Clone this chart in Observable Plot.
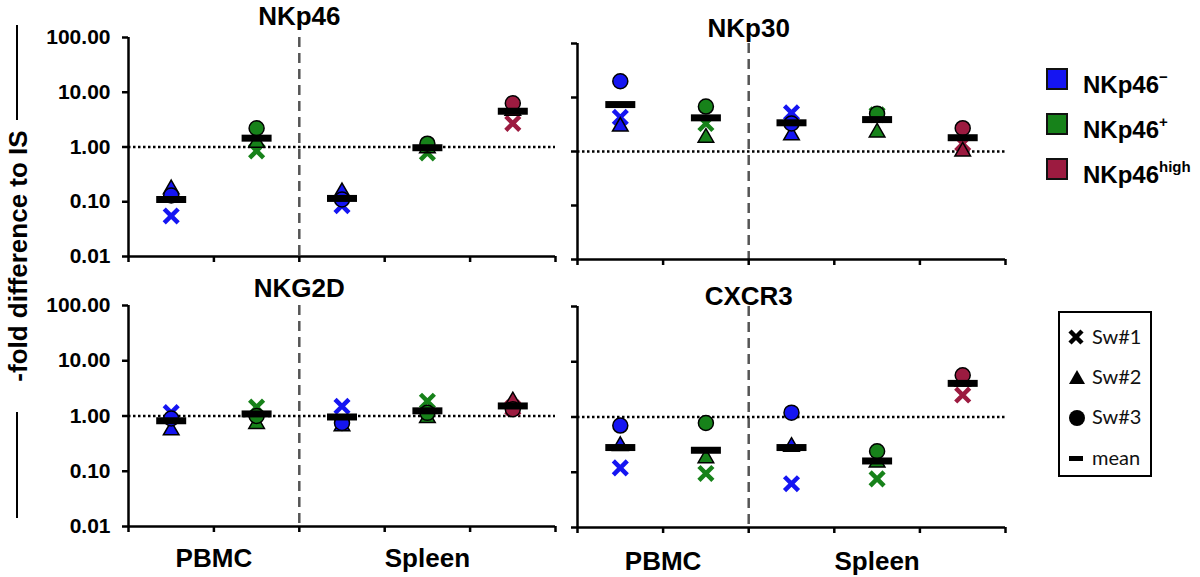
<!DOCTYPE html>
<html><head><meta charset="utf-8">
<script src="https://cdn.jsdelivr.net/npm/d3@7"></script>
<script src="https://cdn.jsdelivr.net/npm/@observablehq/plot@0.6"></script>
<style>
body{margin:0;background:#fff;}
#chart{position:relative;width:1200px;height:577px;font-family:"Liberation Sans",Arial,sans-serif;overflow:hidden;}
.panel{position:absolute;}
.panel svg{overflow:visible !important;background:transparent !important;max-width:none !important;}
.panel g[aria-label="y-axis tick"], .panel g[aria-label="x-axis tick"]{stroke-width:2.5px;}
.sq{position:absolute;width:22px;height:22px;border:2px solid #111;box-sizing:border-box;}
.lg1{position:absolute;font-weight:bold;font-size:24px;line-height:24px;color:#000;}
.lg1 sup{font-size:15px;position:relative;top:-2px;}
#box2{position:absolute;left:1058px;top:311px;width:94px;height:166px;border:2.5px solid #000;box-sizing:border-box;}
.lg2{position:absolute;left:32px;font-family:Lato,"Open Sans",sans-serif;font-size:20px;line-height:20px;color:#111;}
.ico{position:absolute;left:8px;}
#ylab{position:absolute;left:-132px;top:242px;width:300px;text-align:center;font-weight:bold;font-size:26px;line-height:28px;transform:rotate(-90deg);white-space:nowrap;}
.vline{position:absolute;left:16px;width:2px;background:#000;}
</style>
</head><body>
<div id="chart">
  <div class="vline" style="top:25px;height:95px"></div>
  <div id="ylab">-fold difference to IS</div>
  <div class="vline" style="top:412px;height:106px"></div>
</div>
<script>
// ---- data ----
const categories = ["PBMC NKp46−","PBMC NKp46+","Spleen NKp46−","Spleen NKp46+","Spleen NKp46high"];
const tissues = ["PBMC","PBMC","Spleen","Spleen","Spleen"];
const subsets = ["neg","pos","neg","pos","high"];
const tissueGroups = ["PBMC","Spleen"];
const subsetNames = ["neg","pos","high"];
const subsetLabels = ["−","+","high"];
const subsetColors = ["#1515f2","#17821a","#9c1b40"];
const yTicks = [0.01, 0.1, 1, 10, 100];
const refLine = [1];
const donorLabels = ["Sw#1","Sw#2","Sw#3","mean"];

const nkp46_sw1  = [0.055, 0.85, 0.085, 0.78, 2.7];
const nkp46_sw2  = [0.17, 1.2, 0.15, 0.95, 4.6];
const nkp46_sw3  = [0.13, 2.2, 0.11, 1.15, 6.3];
const nkp46_mean = [0.11, 1.45, 0.115, 0.97, 4.5];

const nkp30_sw1  = [4.3, 3.3, 5.2, 4.8, 1.4];
const nkp30_sw2  = [2.9, 1.8, 2.0, 2.25, 1.0];
const nkp30_sw3  = [20, 6.8, 3.3, 5.0, 2.7];
const nkp30_mean = [7.4, 4.2, 3.4, 3.9, 1.8];

const nkg2d_sw1  = [1.15, 1.45, 1.5, 1.85, 1.4];
const nkg2d_sw2  = [0.55, 0.72, 0.65, 0.92, 1.85];
const nkg2d_sw3  = [0.9, 1.0, 0.75, 1.14, 1.33];
const nkg2d_mean = [0.82, 1.09, 0.96, 1.24, 1.52];

const cxcr3_sw1  = [0.12, 0.095, 0.062, 0.076, 2.5];
const cxcr3_sw2  = [0.30, 0.18, 0.29, 0.15, 4.4];
const cxcr3_sw3  = [0.70, 0.78, 1.2, 0.24, 5.7];
const cxcr3_mean = [0.28, 0.25, 0.28, 0.16, 4.06];

// ---- drawing ----
const meanBar = {draw(ctx){ ctx.moveTo(-15,-3.5); ctx.lineTo(15,-3.5); ctx.lineTo(15,3.5); ctx.lineTo(-15,3.5); ctx.closePath(); }};
const boundary = tissues.indexOf("Spleen");
const groupCenters = tissueGroups.map(t => {
  const idx = tissues.map((v,i)=> v===t ? i : -1).filter(i=> i>=0);
  return (idx[0] + idx[idx.length-1] + 1) / 2;
});

function panel(name, sw1, sw2, sw3, mean, o) {
  const rows = categories.map((c,i)=>({category:c, idx:i, subset:subsets[i], sw1:sw1[i], sw2:sw2[i], sw3:sw3[i], mean:mean[i]}));
  const xpos = d => d.idx + 0.5;
  const marks = [
    Plot.ruleX([boundary], {stroke:"#555", strokeWidth:2.5, strokeDasharray:"10,6"}),
    Plot.ruleY(refLine, {stroke:"#000", strokeWidth:2.5, strokeDasharray:"2.5,2.5"}),
    Plot.ruleY([yTicks[0]], {stroke:"#000", strokeWidth:2.5}),
    Plot.ruleX([0], {stroke:"#000", strokeWidth:2.5}),
    Plot.dot(rows, {x:xpos, y:"sw1", symbol:"times", r:6.4, stroke:"subset", strokeWidth:4.5}),
    Plot.dot(rows, {x:xpos, y:"sw2", symbol:"triangle", r:5.8, fill:"subset", stroke:"#000", strokeWidth:1.5}),
    Plot.dot(rows, {x:xpos, y:"sw3", symbol:"circle", r:7.5, fill:"subset", stroke:"#000", strokeWidth:1.5}),
    Plot.dot(rows, {x:xpos, y:"mean", symbol:meanBar, fill:"#000", stroke:"none"}),
    Plot.text([name], {x:[boundary], frameAnchor:"top", lineAnchor:"bottom", dy:o.titleDy, fontSize:26, fontWeight:"bold"})
  ];
  if (o.xlabels) marks.push(Plot.text(tissueGroups, {x: groupCenters, frameAnchor:"bottom", lineAnchor:"top", dy:o.xlabDy, fontSize:26, fontWeight:"bold"}));
  const svg = Plot.plot({
    width:o.width, height:o.height,
    marginLeft:o.ml, marginRight:o.mr, marginTop:o.mt, marginBottom:o.mb,
    style:{fontFamily:"Liberation Sans, Arial, sans-serif", fontSize:"21px", fontWeight:"bold", background:"transparent", overflow:"visible", color:"#000"},
    x:{type:"linear", domain:[0, categories.length], ticks:d3.range(categories.length+1), tickFormat:()=>"", tickSize:6, label:null},
    y:{type:"log", domain:[yTicks[0], yTicks[yTicks.length-1]], ticks:yTicks, tickFormat: o.ylabels ? d3.format(".2f") : ()=>"", tickSize:6, tickPadding:12, label:null},
    color:{domain:subsetNames, range:subsetColors},
    marks
  });
  const div = document.createElement("div");
  div.className = "panel";
  div.style.left = o.left + "px";
  div.style.top = o.top + "px";
  div.appendChild(svg);
  document.getElementById("chart").appendChild(div);
}

panel("NKp46", nkp46_sw1, nkp46_sw2, nkp46_sw3, nkp46_mean, {left:0, top:0, width:560, height:280, ml:128, mr:5, mt:37, mb:24, ylabels:true, xlabels:false, titleDy:-13});
panel("NKp30", nkp30_sw1, nkp30_sw2, nkp30_sw3, nkp30_mean, {left:560, top:0, width:460, height:280, ml:17, mr:15, mt:43, mb:21, ylabels:false, xlabels:false, titleDy:-7});
panel("NKG2D", nkg2d_sw1, nkg2d_sw2, nkg2d_sw3, nkg2d_mean, {left:0, top:270, width:560, height:307, ml:128, mr:5, mt:35, mb:51, ylabels:true, xlabels:true, titleDy:-9, xlabDy:22});
panel("CXCR3", cxcr3_sw1, cxcr3_sw2, cxcr3_sw3, cxcr3_mean, {left:560, top:270, width:460, height:307, ml:17, mr:15, mt:36, mb:50, ylabels:false, xlabels:true, titleDy:-2, xlabDy:24});

// ---- legends ----
const chart = document.getElementById("chart");
const sqTops = [68, 113, 158];
subsetNames.forEach((s,i) => {
  const sq = document.createElement("div");
  sq.className = "sq";
  sq.style.left = "1046px"; sq.style.top = sqTops[i] + "px"; sq.style.background = subsetColors[i];
  chart.appendChild(sq);
  const t = document.createElement("div");
  t.className = "lg1";
  t.style.left = "1083px"; t.style.top = (sqTops[i] - 1) + "px";
  t.innerHTML = "NKp46<sup>" + subsetLabels[i] + "</sup>";
  chart.appendChild(t);
});
const box = document.createElement("div");
box.id = "box2";
chart.appendChild(box);
const icons = [
  '<svg width="16" height="16"><path d="M2,2L14,14M14,2L2,14" stroke="#000" stroke-width="4.5"/></svg>',
  '<svg width="18" height="16"><path d="M9,1L17,15L1,15Z" fill="#000"/></svg>',
  '<svg width="18" height="18"><circle cx="9" cy="9" r="8" fill="#000"/></svg>',
  '<svg width="16" height="16"><rect x="1" y="6" width="14" height="5" fill="#000"/></svg>'
];
const rowCenters = [24, 64, 104, 145];
donorLabels.forEach((lab,i) => {
  const ic = document.createElement("div");
  ic.className = "ico";
  ic.style.top = (rowCenters[i] - 8) + "px";
  ic.innerHTML = icons[i];
  box.appendChild(ic);
  const t = document.createElement("div");
  t.className = "lg2";
  t.style.top = (rowCenters[i] - 11) + "px";
  t.textContent = lab;
  box.appendChild(t);
});
</script>
</body></html>
